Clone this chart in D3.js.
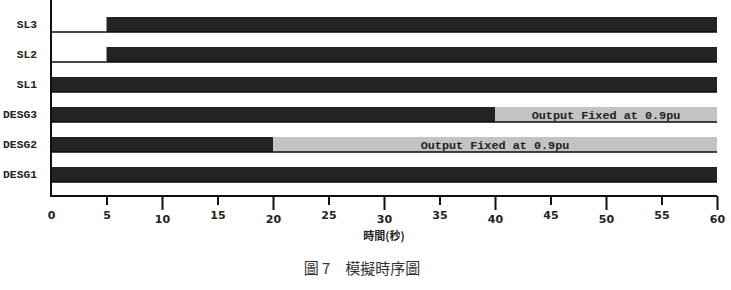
<!DOCTYPE html>
<html lang="zh-Hant">
<head>
<meta charset="UTF-8">
<script src="https://d3js.org/d3.v7.min.js"></script>
<title>模擬時序圖</title>
<style>
  body { margin: 0; background: #fff; }
  svg { display: block; }
  .row-label { font: bold 11.3px "Liberation Mono", "DejaVu Sans Mono", monospace; fill: #222; }
  .seg-label { font: bold 11.8px "Liberation Mono", "DejaVu Sans Mono", monospace; fill: #222; }
  .tick text { font: bold 11px "DejaVu Sans", sans-serif; fill: #222; }
  .tick line { stroke: #111; stroke-width: 2; }
</style>
</head>
<body>
<svg></svg>
<script>
// rows, top to bottom
const rows = ["SL3", "SL2", "SL1", "DESG3", "DESG2", "DESG1"];
// time (s) at which each row switches on (dark bar)
const onTimes = [5, 5, 0, 0, 0, 0];
// time (s) at which output becomes fixed (grey bar), null = never
const fixedTimes = [null, null, null, 40, 20, null];
const endTime = 60;
const fixedLabel = "Output Fixed at 0.9pu";
const majorTicks = [10, 20, 30, 40, 50, 60];
const minorTicks = [0, 5, 15, 25, 35, 45, 55];
const xTitle = "時間(秒)";
const caption = "圖 7　模擬時序圖";

const w = 731, h = 290;
const svg = d3.select("svg").attr("width", w).attr("height", h);
svg.append("rect").attr("width", w).attr("height", h).attr("fill", "#fff");

const x = d3.scaleLinear().domain([0, endTime]).range([51, 717]);
const y = d3.scaleBand().domain(rows).range([9.5, 189.5])
  .paddingInner(0.5).paddingOuter(0.25);
const axisY = 196;

// build segments
const segs = [];
rows.forEach((r, i) => {
  if (onTimes[i] > 0) segs.push({ row: r, start: 0, end: onTimes[i], state: "off" });
  const onEnd = fixedTimes[i] == null ? endTime : fixedTimes[i];
  segs.push({ row: r, start: onTimes[i], end: onEnd, state: "on" });
  if (fixedTimes[i] != null) segs.push({ row: r, start: fixedTimes[i], end: endTime, state: "fixed" });
});

const bars = segs.filter(d => d.state !== "off");
svg.selectAll("rect.bar")
  .data(bars)
  .enter()
  .append("rect")
  .attr("class", "bar")
  .attr("x", d => x(d.start))
  .attr("y", d => y(d.row))
  .attr("width", d => x(d.end) - x(d.start))
  .attr("height", y.bandwidth())
  .attr("fill", d => d.state === "on" ? "#232323" : "#c3c3c3");

// dark bottom edge under each bar, and baseline for "off" parts
svg.selectAll("line.edge")
  .data(segs)
  .enter()
  .append("line")
  .attr("x1", d => x(d.start))
  .attr("x2", d => x(d.end))
  .attr("y1", d => y(d.row) + y.bandwidth())
  .attr("y2", d => y(d.row) + y.bandwidth())
  .attr("stroke", "#0a0a0a")
  .attr("stroke-width", 1.5);

svg.selectAll("text.seg-label")
  .data(segs.filter(d => d.state === "fixed"))
  .enter()
  .append("text")
  .attr("class", "seg-label")
  .attr("x", d => (x(d.start) + x(d.end)) / 2)
  .attr("y", d => y(d.row) + y.bandwidth() / 2)
  .attr("dy", "0.35em")
  .attr("text-anchor", "middle")
  .text(fixedLabel);

svg.selectAll("text.row-label")
  .data(rows)
  .enter()
  .append("text")
  .attr("class", "row-label")
  .attr("x", 37)
  .attr("y", d => y(d) + y.bandwidth() / 2)
  .attr("dy", "0.35em")
  .attr("text-anchor", "end")
  .text(d => d);

// x axis: long ticks every 10, short ticks between
const gMajor = svg.append("g")
  .attr("transform", "translate(0," + axisY + ")")
  .call(d3.axisBottom(x).tickValues(majorTicks).tickSize(14).tickPadding(5).tickFormat(d3.format("d")));
const gMinor = svg.append("g")
  .attr("transform", "translate(0," + axisY + ")")
  .call(d3.axisBottom(x).tickValues(minorTicks).tickSize(9).tickPadding(6).tickFormat(d3.format("d")));
gMajor.select(".domain").remove();
gMinor.select(".domain").remove();
gMinor.selectAll(".tick").filter(d => d === 0).select("line").remove();

// axis lines
svg.append("line")
  .attr("x1", x(0)).attr("x2", x(endTime))
  .attr("y1", axisY).attr("y2", axisY)
  .attr("stroke", "#111").attr("stroke-width", 2);
svg.append("line")
  .attr("x1", x(0)).attr("x2", x(0))
  .attr("y1", 0).attr("y2", axisY + 1)
  .attr("stroke", "#111").attr("stroke-width", 2);

svg.append("text")
  .attr("x", x(30))
  .attr("y", 240)
  .attr("text-anchor", "middle")
  .style("font", "bold 11px 'Noto Sans CJK TC', sans-serif")
  .style("fill", "#222")
  .text(xTitle);

svg.append("text")
  .attr("x", 362)
  .attr("y", 274)
  .attr("text-anchor", "middle")
  .style("font", "15px 'Noto Sans CJK TC', sans-serif")
  .style("fill", "#333")
  .text(caption);
</script>
</body>
</html>
